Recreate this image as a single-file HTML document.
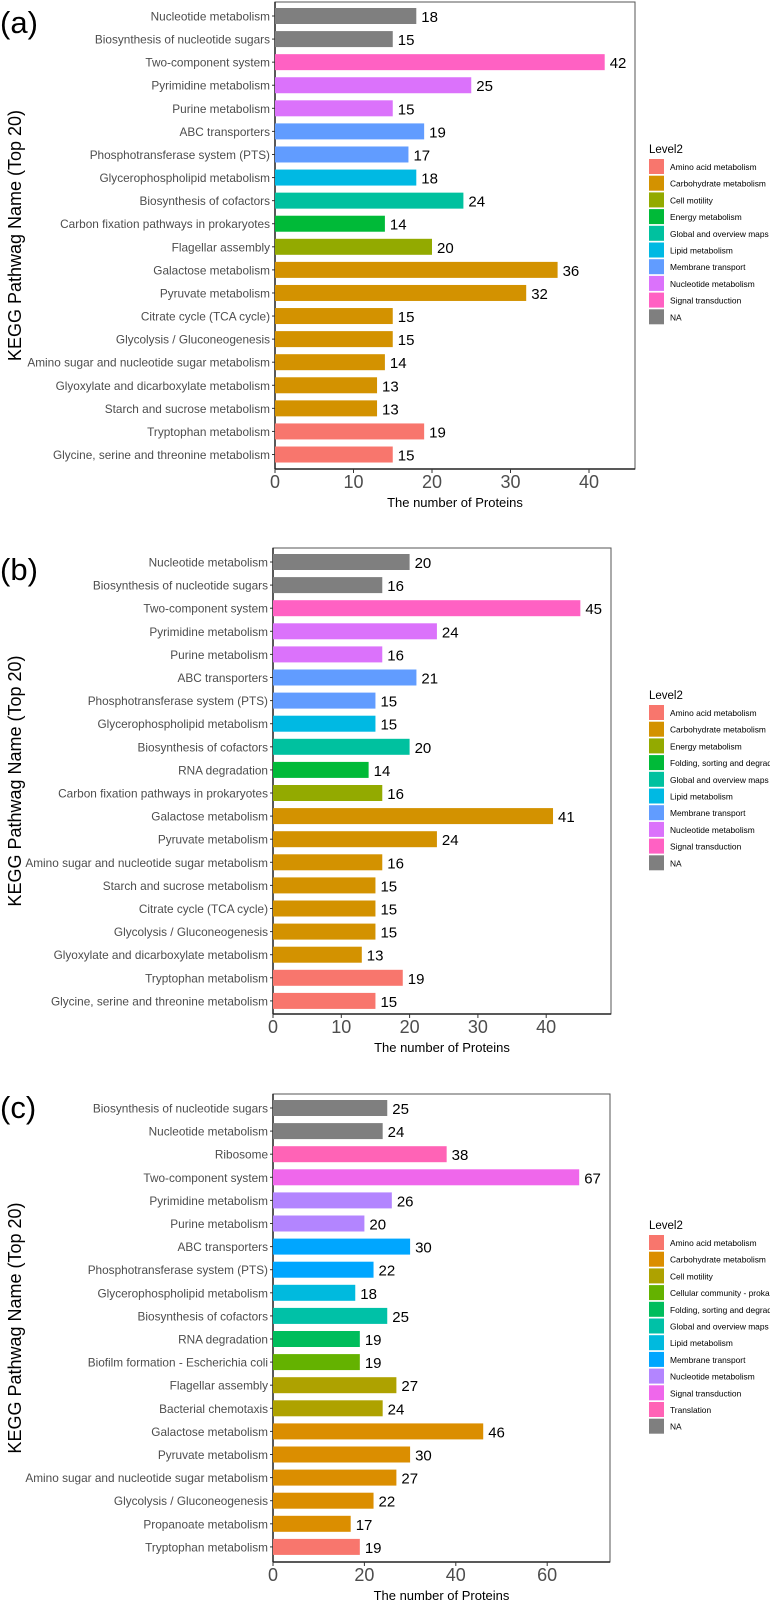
<!DOCTYPE html>
<html><head><meta charset="utf-8"><style>
body{margin:0;background:#fff}
svg{display:block;font-family:"Liberation Sans",sans-serif}
</style></head><body>
<svg id="fig" width="770" height="1603" viewBox="0 0 770 1603"></svg>
<script>
const catsA=["Nucleotide metabolism","Biosynthesis of nucleotide sugars","Two-component system","Pyrimidine metabolism","Purine metabolism","ABC transporters","Phosphotransferase system (PTS)","Glycerophospholipid metabolism","Biosynthesis of cofactors","Carbon fixation pathways in prokaryotes","Flagellar assembly","Galactose metabolism","Pyruvate metabolism","Citrate cycle (TCA cycle)","Glycolysis / Gluconeogenesis","Amino sugar and nucleotide sugar metabolism","Glyoxylate and dicarboxylate metabolism","Starch and sucrose metabolism","Tryptophan metabolism","Glycine, serine and threonine metabolism"];
const valsA=[18,15,42,25,15,19,17,18,24,14,20,36,32,15,15,14,13,13,19,15];
const grpA=[9,9,8,7,7,6,6,5,4,3,2,1,1,1,1,1,1,1,0,0];
const legA=["Amino acid metabolism","Carbohydrate metabolism","Cell motility","Energy metabolism","Global and overview maps","Lipid metabolism","Membrane transport","Nucleotide metabolism","Signal transduction","NA"];
const colA=["#F8766D","#D39200","#93AA00","#00BA38","#00C19F","#00B9E3","#619CFF","#DB72FB","#FF61C3","#7F7F7F"];
const ticksA=[0,10,20,30,40];

const catsB=["Nucleotide metabolism","Biosynthesis of nucleotide sugars","Two-component system","Pyrimidine metabolism","Purine metabolism","ABC transporters","Phosphotransferase system (PTS)","Glycerophospholipid metabolism","Biosynthesis of cofactors","RNA degradation","Carbon fixation pathways in prokaryotes","Galactose metabolism","Pyruvate metabolism","Amino sugar and nucleotide sugar metabolism","Starch and sucrose metabolism","Citrate cycle (TCA cycle)","Glycolysis / Gluconeogenesis","Glyoxylate and dicarboxylate metabolism","Tryptophan metabolism","Glycine, serine and threonine metabolism"];
const valsB=[20,16,45,24,16,21,15,15,20,14,16,41,24,16,15,15,15,13,19,15];
const grpB=[9,9,8,7,7,6,6,5,4,3,2,1,1,1,1,1,1,1,0,0];
const legB=["Amino acid metabolism","Carbohydrate metabolism","Energy metabolism","Folding, sorting and degradation","Global and overview maps","Lipid metabolism","Membrane transport","Nucleotide metabolism","Signal transduction","NA"];
const colB=["#F8766D","#D39200","#93AA00","#00BA38","#00C19F","#00B9E3","#619CFF","#DB72FB","#FF61C3","#7F7F7F"];
const ticksB=[0,10,20,30,40];

const catsC=["Biosynthesis of nucleotide sugars","Nucleotide metabolism","Ribosome","Two-component system","Pyrimidine metabolism","Purine metabolism","ABC transporters","Phosphotransferase system (PTS)","Glycerophospholipid metabolism","Biosynthesis of cofactors","RNA degradation","Biofilm formation - Escherichia coli","Flagellar assembly","Bacterial chemotaxis","Galactose metabolism","Pyruvate metabolism","Amino sugar and nucleotide sugar metabolism","Glycolysis / Gluconeogenesis","Propanoate metabolism","Tryptophan metabolism"];
const valsC=[25,24,38,67,26,20,30,22,18,25,19,19,27,24,46,30,27,22,17,19];
const grpC=[11,11,10,9,8,8,7,7,6,5,4,3,2,2,1,1,1,1,1,0];
const legC=["Amino acid metabolism","Carbohydrate metabolism","Cell motility","Cellular community - prokaryotes","Folding, sorting and degradation","Global and overview maps","Lipid metabolism","Membrane transport","Nucleotide metabolism","Signal transduction","Translation","NA"];
const colC=["#F8766D","#DB8E00","#AEA200","#64B200","#00BD5C","#00C1A7","#00BADE","#00A6FF","#B385FF","#EF67EB","#FF63B6","#7F7F7F"];
const ticksC=[0,20,40,60];

const NS="http://www.w3.org/2000/svg";
const svg=document.getElementById('fig');
function mk(tag,attrs,parent,text){const e=document.createElementNS(NS,tag);for(const k in attrs)e.setAttribute(k,attrs[k]);if(text!==undefined)e.textContent=text;(parent||svg).appendChild(e);return e;}

function panel(id,cfg,cats,vals,grp,leg,col,ticks){
  const g=mk('g',{});
  
  
  const L=cfg.left,R=cfg.right,T=cfg.top,B=cfg.bottom;
  const xs=v=>L+v*cfg.ppu;
  const step=cfg.step;
  const ys=i=>cfg.first+i*step;
  const tag=mk('text',{x:0,y:cfg.tagY,'font-size':31,fill:'#000'},g,'('+id+')');
  
  
  const frame=mk('rect',{x:L,y:T,width:R-L,height:B-T,fill:'none',stroke:'#555','stroke-width':1},g);
  
  
  mk('line',{x1:L,x2:R,y1:B,y2:B,stroke:'#222','stroke-width':1.5},g);
  mk('line',{x1:L,x2:L,y1:T,y2:B,stroke:'#222','stroke-width':1.5},g);
  const bh=16;
  cats.forEach((c,i)=>{
    const y=ys(i);
    const r=mk('rect',{x:L,y:y-bh/2,width:xs(vals[i])-L,height:bh,fill:col[grp[i]]},g);
    
    
    const lb=mk('text',{x:L-5,y:y+4.5,'text-anchor':'end','font-size':11.8,fill:'#4d4d4d'},g,c);
    
    
    mk('line',{x1:L-3,x2:L,y1:y,y2:y,stroke:'#333'},g);
    const vl=mk('text',{x:xs(vals[i])+5,y:y+6,'font-size':15,fill:'#000'},g,String(vals[i]));
    
    
  });
  ticks.forEach(t=>{
    mk('line',{x1:xs(t),x2:xs(t),y1:B,y2:B+4,stroke:'#333'},g);
    const tl=mk('text',{x:xs(t),y:B+19,'text-anchor':'middle','font-size':18,fill:'#4d4d4d'},g,String(t));
    
    
  });
  const xt=mk('text',{x:(L+R)/2,y:B+38,'text-anchor':'middle','font-size':13,fill:'#000'},g,'The number of Proteins');
  
  
  const cy=(T+B)/2;
  const yt=mk('text',{x:21,y:cy,'text-anchor':'middle','font-size':18,fill:'#000',transform:'rotate(-90 21 '+cy+')'},g,'KEGG Pathwag Name (Top 20)');
  
  
  const lt=mk('text',{x:649,y:cfg.legTop,'font-size':11.5,fill:'#000'},g,'Level2');
  
  
  leg.forEach((n,i)=>{
    const y=cfg.legTop+6+i*16.7;
    const k=mk('rect',{x:649,y:y,width:15,height:15,fill:col[i]},g);
    
    
    const t=mk('text',{x:670,y:y+11,'font-size':8.4,fill:'#000'},g,n);
    
    
  });
}
panel('a',{left:275,top:2,bottom:469,right:635,ppu:7.85,first:16,step:23.08,legTop:153,tagY:33},catsA,valsA,grpA,legA,colA,ticksA);
panel('b',{left:273,top:548,bottom:1014,right:611,ppu:6.83,first:562,step:23.1,legTop:699,tagY:580},catsB,valsB,grpB,legB,colB,ticksB);
panel('c',{left:273,top:1094,bottom:1562,right:610,ppu:4.57,first:1108,step:23.1,legTop:1229,tagY:1118},catsC,valsC,grpC,legC,colC,ticksC);
</script>
</body></html>
